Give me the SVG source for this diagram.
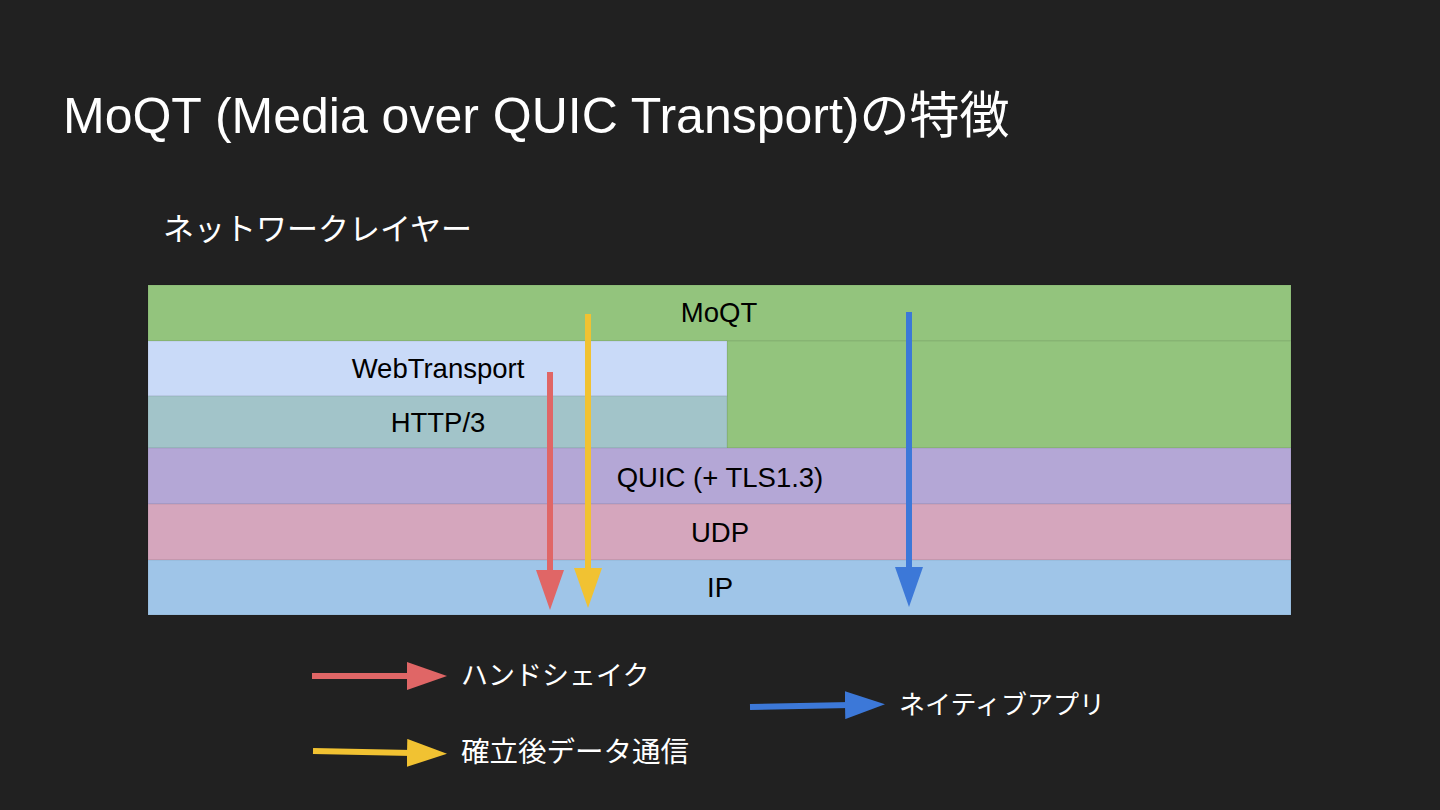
<svg xmlns="http://www.w3.org/2000/svg" width="1440" height="810" viewBox="0 0 1440 810">
<style>
.title{font-family:"Liberation Sans","Noto Sans CJK JP",sans-serif;fill:#ffffff}
.lbl{font-family:"Liberation Sans","Noto Sans CJK JP",sans-serif;font-size:27.5px;fill:#000000;text-anchor:middle}
.leg{font-family:"Noto Sans CJK JP",sans-serif;font-size:27px;fill:#ffffff}
.layer{stroke:#000;stroke-opacity:0.08;stroke-width:1}
.ar{stroke-width:6;fill:none}
</style>
<defs>
<marker id="hr" markerUnits="userSpaceOnUse" markerWidth="40" markerHeight="28" refX="5" refY="14" orient="auto"><path d="M0,0 L40,14 L0,28 z" fill="#e06666"/></marker>
<marker id="hy" markerUnits="userSpaceOnUse" markerWidth="40" markerHeight="28" refX="5" refY="14" orient="auto"><path d="M0,0 L40,14 L0,28 z" fill="#f1c232"/></marker>
<marker id="hb" markerUnits="userSpaceOnUse" markerWidth="40" markerHeight="28" refX="5" refY="14" orient="auto"><path d="M0,0 L40,14 L0,28 z" fill="#3c78d8"/></marker>
</defs>
<rect width="1440" height="810" fill="#212121"/>
<text class="title" x="63" y="133" font-size="50">MoQT (Media over QUIC Transport)の特徴</text>
<text class="leg" x="163" y="240" style="font-size:31px">ネットワークレイヤー</text>

<g id="moqt"><rect class="layer" x="148" y="285" width="1143" height="56" fill="#93c47d"/><rect class="layer" x="727" y="341" width="564" height="107" fill="#93c47d"/><text class="lbl" x="719" y="322">MoQT</text></g>
<g id="webtransport"><rect class="layer" x="148" y="341" width="579" height="55" fill="#c9daf8"/><text class="lbl" x="438" y="378">WebTransport</text></g>
<g id="http3"><rect class="layer" x="148" y="396" width="579" height="52" fill="#a2c4c9"/><text class="lbl" x="438" y="432">HTTP/3</text></g>
<g id="quic"><rect class="layer" x="148" y="448" width="1143" height="56" fill="#b4a7d6"/><text class="lbl" x="720" y="487">QUIC (+ TLS1.3)</text></g>
<g id="udp"><rect class="layer" x="148" y="504" width="1143" height="56" fill="#d5a6bd"/><text class="lbl" x="720" y="542">UDP</text></g>
<g id="ip"><rect class="layer" x="148" y="560" width="1143" height="55" fill="#9fc5e8"/><text class="lbl" x="720" y="597">IP</text></g>

<g id="connectors">
<line class="ar" x1="550" y1="372" x2="550" y2="575" stroke="#e06666" marker-end="url(#hr)"/>
<line class="ar" x1="588" y1="314" x2="588" y2="573" stroke="#f1c232" marker-end="url(#hy)"/>
<line class="ar" x1="909" y1="312" x2="909" y2="572" stroke="#3c78d8" marker-end="url(#hb)"/>
</g>

<g id="legend-handshake"><line class="ar" x1="312" y1="676" x2="412" y2="676" stroke="#e06666" marker-end="url(#hr)"/><text class="leg" x="461" y="685">ハンドシェイク</text></g>
<g id="legend-data"><line class="ar" x1="313" y1="751" x2="412" y2="753" stroke="#f1c232" marker-end="url(#hy)"/><text class="leg" x="461" y="762" style="font-size:28.5px">確立後データ通信</text></g>
<g id="legend-native"><line class="ar" x1="750" y1="707" x2="850" y2="705" stroke="#3c78d8" marker-end="url(#hb)"/><text class="leg" x="899" y="714" style="font-size:26px">ネイティブアプリ</text></g>
</svg>
